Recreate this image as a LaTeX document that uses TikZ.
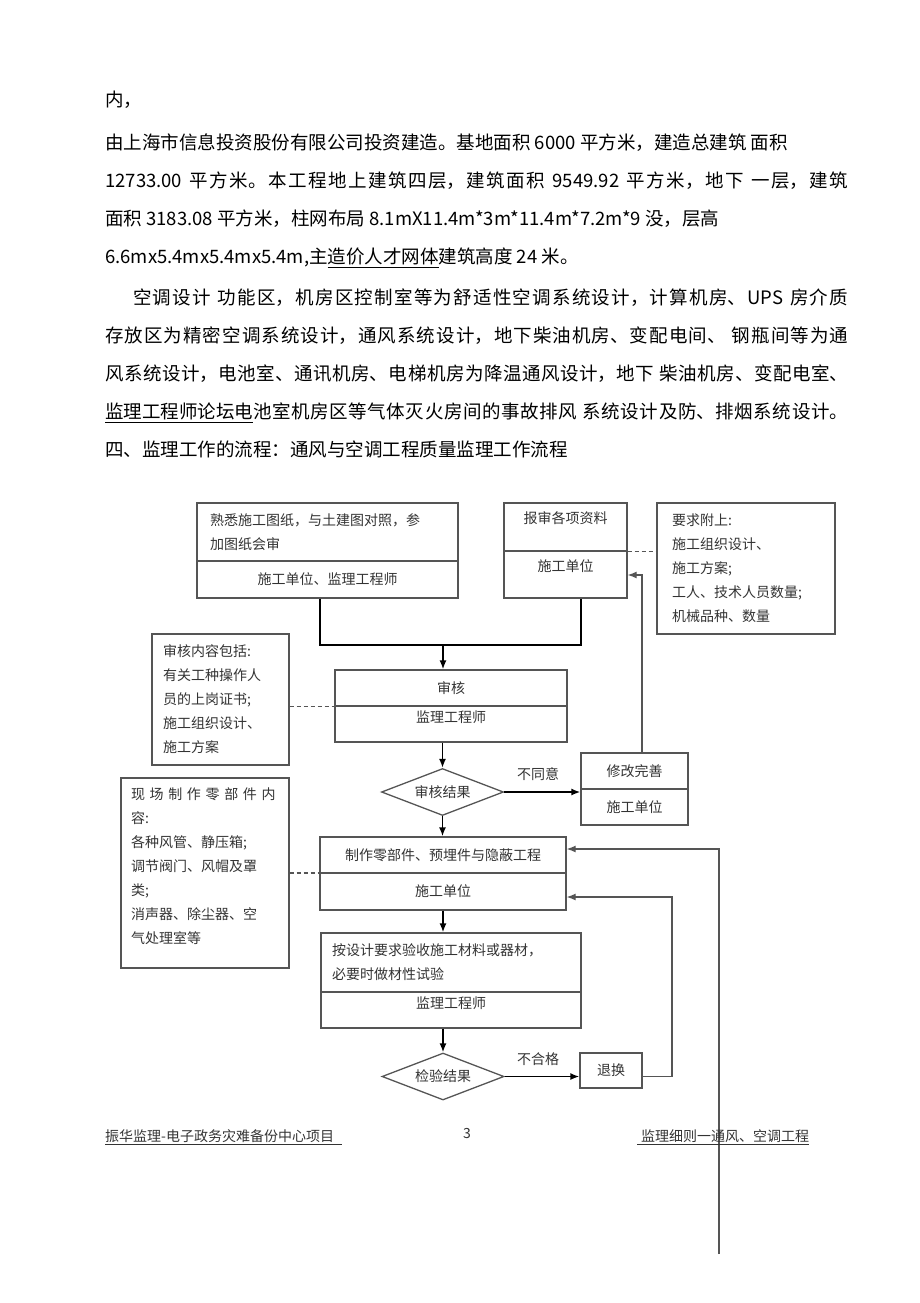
\documentclass[tikz,border=0pt]{standalone}
\usepackage{fontspec}
\setmainfont{Noto Sans CJK SC}
\usepackage{tikz}
\usetikzlibrary{shapes, arrows.meta}
\XeTeXlinebreaklocale "zh"
\XeTeXlinebreakskip = 0pt plus 1pt
\definecolor{edge}{HTML}{555555}
\definecolor{ink}{HTML}{333333}
\newcommand{\flowfont}{\fontsize{14}{24}\selectfont}
\newcommand{\bodyfont}{\fontsize{18.5}{38}\selectfont}
\tikzset{
    normal/.style={draw=edge, line width=1.3pt},
    cell/.style={style=normal, inner sep=0pt, font=\flowfont, text=ink, align=center},
    dec/.style={style=normal, diamond, aspect=2.6, inner sep=1pt, font=\flowfont, text=ink}, % decision
    lab/.style={font=\flowfont, text=ink},
    body/.style={font=\bodyfont, inner sep=0pt},
    para/.style={style=body, anchor=north west, text width=743pt, align=justify},
    foot/.style={font=\flowfont, text=ink, inner sep=0pt},
    e/.style={draw=black, line width=1.6pt, -{Latex[length=9pt, width=7pt]}},
    fb/.style={style=normal, -{Latex[length=9pt, width=7pt]}}, % feedback edge
    merge/.style={draw=black, line width=2pt},
    dl/.style={style=normal, dash pattern=on 4pt off 3pt} % note link
}

\begin{document}
\begin{tikzpicture}[x=1pt, y=-1pt]
  \useasboundingbox (0,0) rectangle (920,1303);

  % page text
  \node[body, anchor=west] (l1) at (105,100) {内，};
  \node[para] (p1) at (105,134) {由上海市信息投资股份有限公司投资建造。基地面积 6000 平方米，建造总建筑 面积\newline
    12733.00 平方米。本工程地上建筑四层，建筑面积 9549.92 平方米，地下 一层，建筑\linebreak
    面积 3183.08 平方米，柱网布局 8.1mX11.4m*3m*11.4m*7.2m*9 没，层高\newline
    6.6mx5.4mx5.4mx5.4m,主\underline{造价人才网体}建筑高度 24 米。};
  \node[para] (p2) at (105,289) {\hspace*{28pt}空调设计 功能区，机房区控制室等为舒适性空调系统设计，计算机房、UPS 房介质\linebreak
    存放区为精密空调系统设计，通风系统设计，地下柴油机房、变配电间、 钢瓶间等为通\linebreak
    风系统设计，电池室、通讯机房、电梯机房为降温通风设计，地下 柴油机房、变配电室、\linebreak
    \underline{监理工程师论坛电}池室机房区等气体灭火房间的事故排风 系统设计及防、排烟系统设计。\linebreak
    四、监理工作的流程：通风与空调工程质量监理工作流程};

  % flow chart
  \node[cell, text width=235pt, inner xsep=13pt, minimum height=58pt, align=left] (aT) at (327.5,532) {熟悉施工图纸，与土建图对照，参\\加图纸会审};
  \node[cell, minimum width=261pt, minimum height=37pt] (aB) at (327.5,579.5) {施工单位、监理工程师};
  \node[cell, minimum width=123pt, minimum height=48pt] (bT) at (565.5,527) {报审各项资料\\[-6pt]~};
  \node[cell, minimum width=123pt, minimum height=47pt] (bB) at (565.5,574.5) {施工单位\\[-6pt]~};
  \node[cell, text width=148pt, inner xsep=15pt, minimum height=131pt, align=left] (c) at (746,568.5) {要求附上:\\施工组织设计、\\施工方案;\\工人、技术人员数量;\\机械品种、数量};
  \node[cell, text width=115pt, inner xsep=11pt, minimum height=131pt, align=left] (d) at (220.5,699.5) {审核内容包括:\\有关工种操作人\\员的上岗证书;\\施工组织设计、\\施工方案};
  \node[cell, minimum width=232pt, minimum height=36pt] (eT) at (451,688) {审核};
  \node[cell, minimum width=232pt, minimum height=36pt] (eB) at (451,724) {监理工程师\\[-10pt]~};
  \node[dec, minimum width=122pt, minimum height=47pt] (k1) at (442.5,792) {审核结果};
  \node[lab] (no1) at (538,774) {不同意};
  \node[cell, minimum width=107pt, minimum height=36pt] (gT) at (634.5,771) {修改完善};
  \node[cell, minimum width=107pt, minimum height=36pt] (gB) at (634.5,807) {施工单位};
  \node[cell, text width=148pt, inner xsep=10pt, minimum height=190pt, align=left] (f) at (205,873) {\makebox[145pt][s]{现 场 制 作 零 部 件 内}\\容:\\各种风管、静压箱;\\调节阀门、风帽及罩\\类;\\消声器、除尘器、空\\气处理室等\\[-10pt]~};
  \node[cell, minimum width=246pt, minimum height=36pt] (hT) at (443,855) {制作零部件、预埋件与隐蔽工程};
  \node[cell, minimum width=246pt, minimum height=37pt] (hB) at (443,891.5) {施工单位};
  \node[cell, text width=238pt, inner xsep=11pt, minimum height=59pt, align=left] (iT) at (451,962.5) {按设计要求验收施工材料或器材，\\必要时做材性试验};
  \node[cell, minimum width=260pt, minimum height=36pt] (iB) at (451,1010) {监理工程师\\[-10pt]~};
  \node[dec, minimum width=122pt, minimum height=47pt] (k2) at (443,1076.5) {检验结果};
  \node[lab] (no2) at (538,1059) {不合格};
  \node[cell, minimum width=62pt, minimum height=35pt] (t) at (611,1070.5) {退换};

  \coordinate (jA) at (320,645);
  \coordinate (jB) at (581,645);
  \coordinate (j) at (443,645);
  \coordinate (r1) at (642,575);
  \coordinate (r2) at (672,897);
  \coordinate (r3) at (719,849);
  \coordinate (r3e) at (719,1254);

  \draw[merge] (jA |- aB.south) -- (jA) -- (jB) -- (jB |- bB.south);
  \draw[e] (j) -- (j |- eT.north);
  \draw[dl] (bT.south east) -- (bT.south east -| c.west);
  \draw[dl] (eT.south west -| d.east) -- (eT.south west);
  \draw[e] (k1 |- eB.south) -- (k1.north);
  \draw[e] (k1.east) -- (k1.east -| gB.west);
  \draw[fb] (r1 |- gT.north) -- (r1) -- (r1 -| bB.east);
  \draw[dl] (f.east) -- (f.east -| hT.west);
  \draw[e] (k1.south) -- (k1.south |- hT.north);
  \draw[e] (hB.south) -- (hB.south |- iT.north);
  \draw[e] (k2 |- iB.south) -- (k2.north);
  \draw[e] (k2.east) -- (k2.east -| t.west);
  \draw[fb] (k2.east -| t.east) -- (k2.east -| r2) -- (r2) -- (r2 -| hB.east);
  \draw[fb] (r3e) -- (r3) -- (r3 -| hT.east);

  % footer
  \node[foot, anchor=west] (ft1) at (105,1137) {\underline{振华监理-电子政务灾难备份中心项目\hspace{8pt}}};
  \node[foot] (pg) at (467,1133) {3};
  \node[foot, anchor=west] (ft2) at (637,1137) {\underline{\hspace{4pt}监理细则一通风、空调工程}};
\end{tikzpicture}
\end{document}
